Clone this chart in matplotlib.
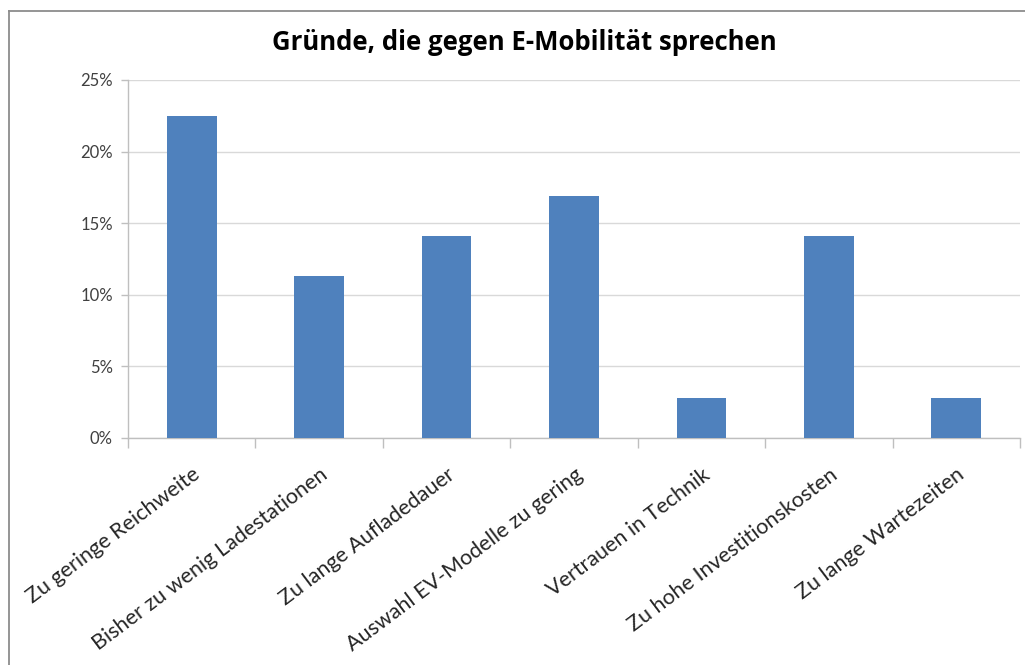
import matplotlib
matplotlib.use("Agg")
import matplotlib.pyplot as plt
from matplotlib.ticker import FuncFormatter, MultipleLocator, FixedLocator
from matplotlib.lines import Line2D

categories = ["Zu geringe Reichweite", "Bisher zu wenig Ladestationen", "Zu lange Aufladedauer",
              "Auswahl EV-Modelle zu gering", "Vertrauen in Technik", "Zu hohe Investitionskosten",
              "Zu lange Wartezeiten"]
values = [22.5, 11.3, 14.1, 16.9, 2.8, 14.1, 2.8]
title = "Gründe, die gegen E-Mobilität sprechen"

plt.rcParams['font.family'] = ['Lato', 'DejaVu Sans']

W, H = 1025, 665
fig = plt.figure(figsize=(W / 100, H / 100), dpi=100)
fig.patch.set_facecolor("white")
# outer frame (left and top edges only visible)
fx, fy = 8.5 / W, 1 - 10.5 / H
fig.add_artist(Line2D([fx, fx], [-0.01, fy], transform=fig.transFigure, color="#8c8c8c", linewidth=1.3))
fig.add_artist(Line2D([fx, 1.01], [fy, fy], transform=fig.transFigure, color="#8c8c8c", linewidth=1.3))

left, right, top, bottom = 128, 1020, 80, 438
ax = fig.add_axes([left / W, 1 - bottom / H, (right - left) / W, (bottom - top) / H])

x = range(len(categories))
ax.bar(x, values, width=0.39, color="#4F81BD", zorder=3)
ax.set_xlim(-0.5, len(categories) - 0.5)
ax.set_ylim(0, 25)
ax.yaxis.set_major_locator(MultipleLocator(5))
ax.yaxis.set_major_formatter(FuncFormatter(lambda v, p: f"{v:.0f}%"))
ax.grid(axis="y", color="#d9d9d9", linewidth=1, zorder=0)

for s in ["top", "right"]:
    ax.spines[s].set_visible(False)
for s in ["left", "bottom"]:
    ax.spines[s].set_color("#bfbfbf")
    ax.spines[s].set_linewidth(1)

ax.set_xticks(list(x))
ax.set_xticklabels(categories, rotation=37, ha="right", va="top", rotation_mode="anchor",
                   fontsize=15.5, color="#262626")
ax.tick_params(axis="x", length=0, pad=19)
ax.xaxis.set_minor_locator(FixedLocator([i - 0.5 for i in range(len(categories) + 1)]))
ax.tick_params(axis="x", which="minor", length=7, color="#bfbfbf", width=1)
ax.tick_params(axis="y", length=5, color="#bfbfbf", width=1, labelsize=12,
               labelcolor="#404040", pad=6)

fig.text(524 / W, 1 - 43 / H, title, ha="center", va="center",
         fontsize=18.5, fontweight="bold", color="#000000", family=["Open Sans", "DejaVu Sans"])

fig.savefig("out.png", dpi=100, facecolor="white")
